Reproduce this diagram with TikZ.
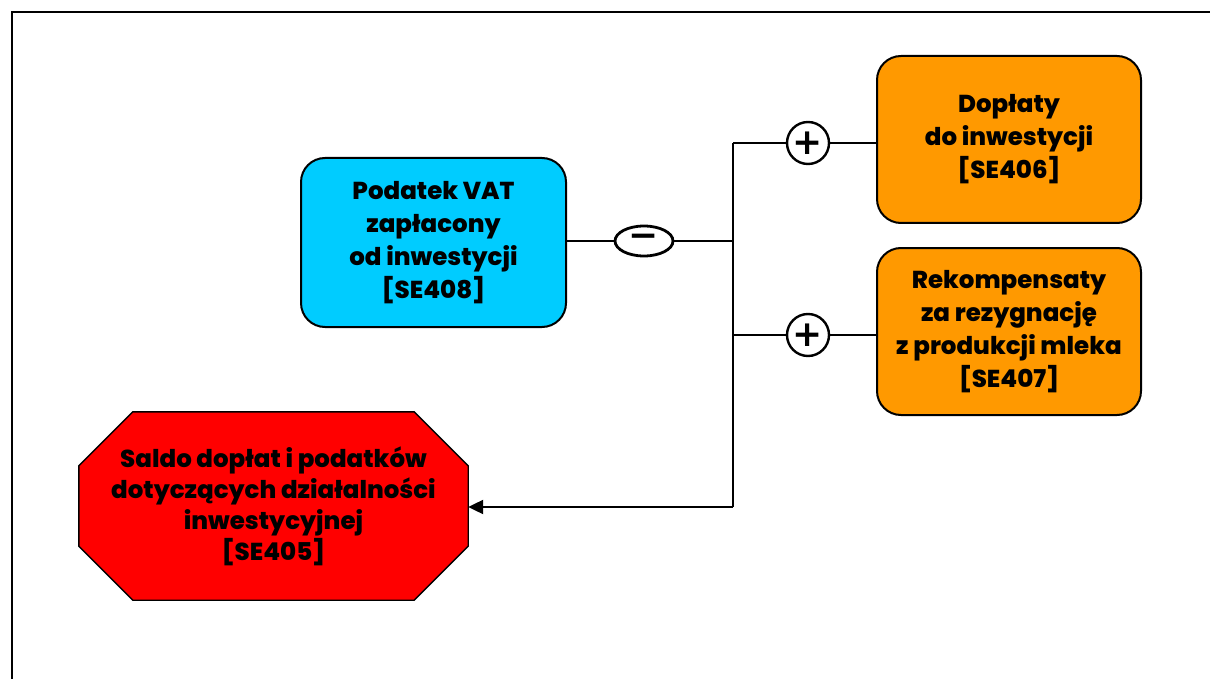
\documentclass[tikz,border=0pt]{standalone}
\usepackage{fontspec}
\setmainfont{Poppins}[UprightFont=* ExtraBold]
\newfontfamily\opfont{DejaVu Sans}[UprightFont=* Bold]
\usetikzlibrary{positioning}
\usetikzlibrary{calc}
\usetikzlibrary{shapes.geometric}
\usetikzlibrary{arrows.meta}
\usetikzlibrary{backgrounds}

\definecolor{boxcyan}{HTML}{00CCFF}
\definecolor{boxorange}{HTML}{FF9900}
\definecolor{boxred}{HTML}{FF0000}

\tikzset{
  itembox/.style={align=center, rounded corners=24pt, draw, line width=2pt,
    minimum width=264pt, minimum height=167pt, inner sep=0pt,
    font=\fontsize{24.5}{33}\selectfont},
  opcircle/.style={circle, draw, line width=2.4pt, minimum size=42pt, inner sep=0pt,
    fill=white, font=\opfont\fontsize{36}{36}\selectfont},
  link/.style={line width=2.2pt},
}

\begin{document}
\begin{tikzpicture}[x=1pt, y=-1pt]

\pgfmathsetmacro{\CUT}{54}

\useasboundingbox (0, 0) rectangle (1210, 679);
\draw [line width=2.4pt] (12, 679) -- (12, 12) -- (1210, 12);

\node [itembox, fill=boxcyan, minimum width=265pt, minimum height=169pt] (vat) at
(433.5, 242.5) {Podatek VAT\\zapłacony\\od inwestycji\\{[SE408]}};

\node [itembox, fill=boxorange] (dop) at
(1009, 139.5) {Dopłaty\\do inwestycji\\{[SE406]}};

\node [itembox, fill=boxorange] (rek) at
(1009, 331.5) {Rekompensaty\\za rezygnację\\z produkcji mleka\\{[SE407]}};

\node [align=center, minimum width=389pt, minimum height=188pt, inner sep=0pt,
font=\fontsize{24.5}{31}\selectfont] (saldo) at
(273.5, 506) {Saldo dopłat i podatków\\dotyczących działalności\\inwestycyjnej\\{[SE405]}};

\begin{scope}[on background layer]
\draw [fill=boxred, line width=1.4pt]
($(saldo.north west) + (\CUT, 0)$) -- ($(saldo.north east) + (-\CUT, 0)$) --
($(saldo.north east) + (0, \CUT)$) -- ($(saldo.south east) + (0, -\CUT)$) --
($(saldo.south east) + (-\CUT, 0)$) -- ($(saldo.south west) + (\CUT, 0)$) --
($(saldo.south west) + (0, -\CUT)$) -- ($(saldo.north west) + (0, \CUT)$) -- cycle;
\end{scope}

\node [opcircle, ellipse, line width=2.8pt, minimum width=58pt, minimum height=30pt]
(neg) at (644, 241) {−};
\node [opcircle] (plusA) at (808, 143) {+};
\node [opcircle] (plusB) at (808, 335) {+};

\coordinate (jmid) at (733, 241);
\coordinate (jtop) at (733, 143);
\coordinate (jbot) at (733, 335);
\coordinate (jend) at (733, 507);

\draw [link] (vat.east |- neg) -- (neg.west);
\draw [link] (neg.east) -- (jmid);
\draw [link] (jtop) -- (jend);
\draw [link] (jtop) -- (plusA.west);
\draw [link] (plusA.east) -- (dop.west |- plusA);
\draw [link] (jbot) -- (plusB.west);
\draw [link] (plusB.east) -- (rek.west |- plusB);
\draw [link, -{Triangle[length=15pt, width=14pt]}] (jend) -- (saldo.east |- jend);

\end{tikzpicture}
\end{document}
